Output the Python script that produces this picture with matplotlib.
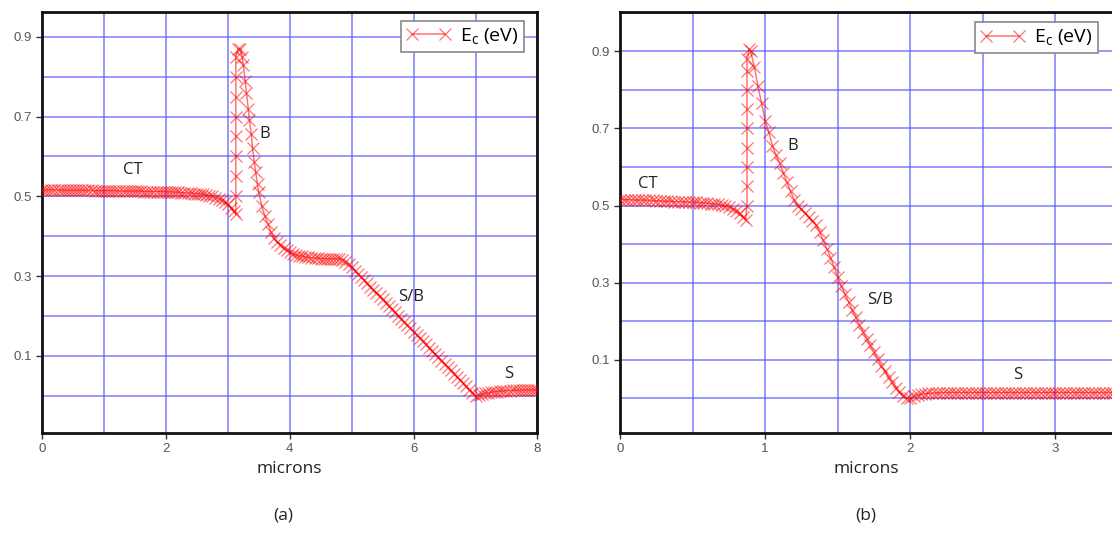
import matplotlib
matplotlib.use("Agg")
import matplotlib.pyplot as plt
from matplotlib.ticker import MultipleLocator, FixedLocator

plt.rcParams['font.family'] = ['Open Sans', 'DejaVu Sans']

# ---------------------------------------------------------------- data (a)
xa = [0.00, 0.05, 0.10, 0.15, 0.20, 0.25, 0.30, 0.35, 0.40, 0.45,
      0.50, 0.55, 0.60, 0.65, 0.70, 0.75, 0.80, 0.85, 0.90, 0.95,
      1.00, 1.05, 1.10, 1.15, 1.20, 1.25, 1.30, 1.35, 1.40, 1.45,
      1.50, 1.55, 1.60, 1.65, 1.70, 1.75, 1.80, 1.85, 1.90, 1.95,
      2.00, 2.05, 2.10, 2.15, 2.20, 2.25, 2.30, 2.35, 2.40, 2.45,
      2.50, 2.55, 2.60, 2.65, 2.70, 2.75, 2.80, 2.85, 2.90, 2.95,
      3.00, 3.05, 3.10, 3.13,
      3.13, 3.13, 3.13, 3.13, 3.13, 3.13, 3.13, 3.13,
      3.17, 3.20, 3.23, 3.25, 3.28, 3.30, 3.33, 3.35, 3.38, 3.40,
      3.43, 3.45, 3.48, 3.50, 3.55, 3.60, 3.65, 3.70, 3.75, 3.80,
      3.85, 3.90, 3.95, 4.00, 4.05, 4.10, 4.15, 4.20, 4.25, 4.30,
      4.35, 4.40, 4.45, 4.50, 4.55, 4.60, 4.65, 4.70, 4.75, 4.80,
      4.85, 4.90, 4.95, 5.00, 5.05, 5.10, 5.15, 5.20, 5.25, 5.30,
      5.35, 5.40, 5.45, 5.50, 5.55, 5.60, 5.65, 5.70, 5.75, 5.80,
      5.85, 5.90, 5.95, 6.00, 6.05, 6.10, 6.15, 6.20, 6.25, 6.30,
      6.35, 6.40, 6.45, 6.50, 6.55, 6.60, 6.65, 6.70, 6.75, 6.80,
      6.85, 6.90, 6.95, 7.00, 7.05, 7.10, 7.15, 7.20, 7.25, 7.30,
      7.35, 7.40, 7.45, 7.50, 7.55, 7.60, 7.65, 7.70, 7.75, 7.80,
      7.85, 7.90, 7.95, 8.00]
ya = [0.516, 0.516, 0.516, 0.516, 0.516, 0.516, 0.516, 0.515, 0.515, 0.515,
      0.515, 0.515, 0.515, 0.515, 0.515, 0.515, 0.515, 0.514, 0.514, 0.514,
      0.514, 0.514, 0.514, 0.514, 0.514, 0.513, 0.513, 0.513, 0.513, 0.513,
      0.513, 0.513, 0.513, 0.512, 0.512, 0.512, 0.512, 0.512, 0.512, 0.512,
      0.511, 0.511, 0.511, 0.510, 0.510, 0.509, 0.509, 0.508, 0.508, 0.507,
      0.507, 0.506, 0.505, 0.503, 0.502, 0.500, 0.497, 0.494, 0.490, 0.486,
      0.480, 0.472, 0.462, 0.455,
      0.50, 0.55, 0.60, 0.65, 0.70, 0.75, 0.80, 0.85,
      0.870, 0.870, 0.850, 0.830, 0.790, 0.760, 0.720, 0.690, 0.655, 0.620,
      0.585, 0.560, 0.530, 0.510, 0.475, 0.450, 0.430, 0.410, 0.395, 0.385,
      0.377, 0.370, 0.365, 0.360, 0.356, 0.353, 0.351, 0.350, 0.348, 0.347,
      0.346, 0.345, 0.345, 0.344, 0.344, 0.343, 0.343, 0.343, 0.343, 0.343,
      0.341, 0.336, 0.330, 0.322, 0.314, 0.306, 0.298, 0.290, 0.282, 0.274,
      0.266, 0.258, 0.250, 0.242, 0.233, 0.225, 0.217, 0.209, 0.201, 0.193,
      0.185, 0.177, 0.169, 0.161, 0.153, 0.145, 0.137, 0.129, 0.121, 0.113,
      0.105, 0.097, 0.088, 0.080, 0.072, 0.064, 0.056, 0.048, 0.040, 0.032,
      0.024, 0.016, 0.008, 0.000, 0.002, 0.004, 0.006, 0.007, 0.009, 0.010,
      0.011, 0.012, 0.012, 0.013, 0.013, 0.014, 0.014, 0.014, 0.014, 0.015,
      0.015, 0.015, 0.015, 0.015]

# ---------------------------------------------------------------- data (b)
xb = [0.000, 0.025, 0.050, 0.075, 0.100, 0.125, 0.150, 0.175, 0.200, 0.225,
      0.250, 0.275, 0.300, 0.325, 0.350, 0.375, 0.400, 0.425, 0.450, 0.475,
      0.500, 0.525, 0.550, 0.575, 0.600, 0.625, 0.650, 0.675, 0.700, 0.725,
      0.750, 0.775, 0.800, 0.825, 0.850, 0.865,
      0.875, 0.875, 0.875, 0.875, 0.875, 0.875, 0.875, 0.875, 0.875,
      0.890, 0.900, 0.925, 0.950, 0.975, 1.000, 1.025, 1.050, 1.075, 1.100,
      1.125, 1.150, 1.175, 1.200, 1.225, 1.250, 1.275, 1.300, 1.325, 1.350,
      1.375, 1.400, 1.425, 1.450, 1.475, 1.500, 1.525, 1.550, 1.575, 1.600,
      1.625, 1.650, 1.675, 1.700, 1.725, 1.750, 1.775, 1.800, 1.825, 1.850,
      1.875, 1.900, 1.925, 1.950, 1.975, 2.000, 2.025, 2.050, 2.075, 2.100,
      2.125, 2.150, 2.175, 2.200, 2.225, 2.250, 2.275, 2.300, 2.325, 2.350,
      2.375, 2.400, 2.425, 2.450, 2.475, 2.500, 2.525, 2.550, 2.575, 2.600,
      2.625, 2.650, 2.675, 2.700, 2.725, 2.750, 2.775, 2.800, 2.825, 2.850,
      2.875, 2.900, 2.925, 2.950, 2.975, 3.000, 3.025, 3.050, 3.075, 3.100,
      3.125, 3.150, 3.175, 3.200, 3.225, 3.250, 3.275, 3.300, 3.325, 3.350,
      3.375, 3.400]
yb = [0.515, 0.515, 0.515, 0.515, 0.514, 0.514, 0.514, 0.514, 0.513, 0.513,
      0.512, 0.512, 0.511, 0.511, 0.511, 0.510, 0.510, 0.510, 0.509, 0.509,
      0.508, 0.508, 0.507, 0.507, 0.506, 0.505, 0.504, 0.503, 0.501, 0.499,
      0.496, 0.492, 0.487, 0.480, 0.470, 0.462,
      0.50, 0.55, 0.60, 0.65, 0.70, 0.75, 0.80, 0.85, 0.88,
      0.905, 0.900, 0.860, 0.810, 0.765, 0.720, 0.690, 0.655, 0.630, 0.610,
      0.585, 0.560, 0.537, 0.515, 0.500, 0.490, 0.480, 0.470, 0.460, 0.450,
      0.432, 0.410, 0.388, 0.365, 0.340, 0.315, 0.292, 0.270, 0.250, 0.230,
      0.210, 0.190, 0.172, 0.155, 0.137, 0.120, 0.102, 0.085, 0.070, 0.055,
      0.041, 0.028, 0.016, 0.005, 0.001, 0.000, 0.005, 0.008, 0.010, 0.012,
      0.013, 0.013, 0.014, 0.014, 0.015, 0.015, 0.015, 0.015, 0.015, 0.015,
      0.015, 0.015, 0.015, 0.015, 0.015, 0.015, 0.015, 0.015, 0.015, 0.015,
      0.015, 0.015, 0.015, 0.015, 0.015, 0.015, 0.015, 0.015, 0.015, 0.015,
      0.015, 0.015, 0.015, 0.015, 0.015, 0.015, 0.015, 0.015, 0.015, 0.015,
      0.015, 0.015, 0.015, 0.015, 0.015, 0.015, 0.015, 0.015, 0.015, 0.015,
      0.015, 0.015]

# region labels: (text, x, y)
labels_a = [("CT", 1.47, 0.565), ("B", 3.59, 0.656), ("S/B", 5.96, 0.247), ("S", 7.53, 0.055)]
labels_b = [("CT", 0.19, 0.556), ("B", 1.19, 0.655), ("S/B", 1.79, 0.256), ("S", 2.74, 0.061)]

grid_col = "#5050ff"

fig = plt.figure(figsize=(11.12, 5.33), dpi=100)
ax_a = fig.add_axes([0.0378, 0.1876, 0.4455, 0.79])
ax_b = fig.add_axes([0.5576, 0.1876, 0.4424, 0.79])


def style(ax, xs, ys, labels, xlim, ylim, xmajor, xgrid, cut_right, leg_anchor):
    ax.plot(xs, ys, color="red", lw=1.1, marker="x", ms=8.5, mew=0.9,
            alpha=0.55, label=r"E$_\mathregular{c}$ (eV)", zorder=3)
    ax.set_xlim(*xlim)
    ax.set_ylim(*ylim)
    ax.xaxis.set_major_locator(FixedLocator(xmajor))
    ax.xaxis.set_minor_locator(MultipleLocator(xgrid))
    ax.yaxis.set_major_locator(FixedLocator([0.1, 0.3, 0.5, 0.7, 0.9]))
    ax.yaxis.set_minor_locator(MultipleLocator(0.1))
    ax.grid(True, which="both", color=grid_col, lw=1.1, alpha=0.75, zorder=0)
    ax.tick_params(which="major", length=4, width=1, colors="#333333",
                   labelcolor="#555555", labelsize=9.5)
    ax.tick_params(which="minor", length=0)
    for lab in ax.get_xticklabels() + ax.get_yticklabels():
        lab.set_family(["Liberation Sans", "DejaVu Sans"])
    for side in ["left", "bottom", "top", "right"]:
        ax.spines[side].set_linewidth(2)
        ax.spines[side].set_color("#111111")
    if cut_right:
        ax.spines["right"].set_visible(False)
    ax.set_xlabel("microns", fontsize=12.5, color="#222222", labelpad=4)
    for txt, x, y in labels:
        ax.text(x, y, txt, fontsize=12, color="#222222", ha="center", va="center")
    leg = ax.legend(loc="upper right", bbox_to_anchor=leg_anchor, numpoints=2,
                    fontsize=14, fancybox=False, framealpha=1, edgecolor="#888888",
                    handlelength=2.3, borderpad=0.28, handletextpad=0.45,
                    borderaxespad=0)
    leg.get_frame().set_linewidth(1.2)


style(ax_a, xa, ya, labels_a, (0, 8), (-0.093, 0.962), [0, 2, 4, 6, 8], 1.0, False, (0.972, 0.979))
style(ax_b, xb, yb, labels_b, (0, 3.39), (-0.09, 1.002), [0, 1, 2, 3], 0.5, True, (0.9715, 0.976))

fig.text(0.2545, 0.025, "(a)", fontsize=12.5, color="#222222", ha="center")
fig.text(0.7785, 0.025, "(b)", fontsize=12.5, color="#222222", ha="center")

plt.savefig("out.png", dpi=100)
